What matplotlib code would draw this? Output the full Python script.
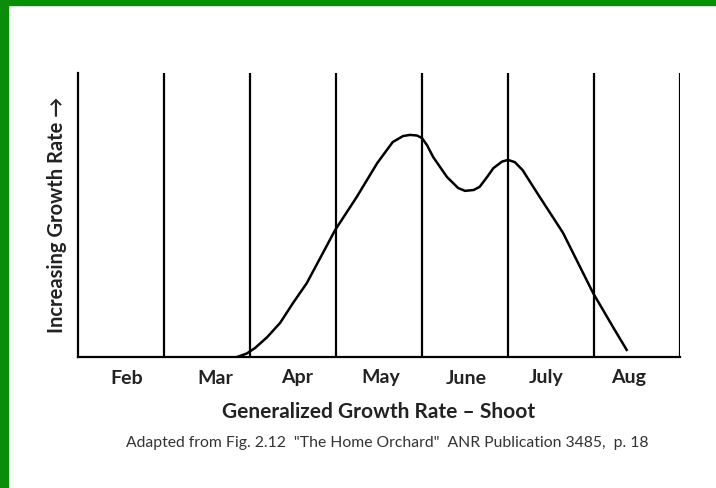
import matplotlib.pyplot as plt
from matplotlib.patches import Rectangle

# Month labels and boundaries
months = ['Feb', 'Mar', 'Apr', 'May', 'June', 'July', 'Aug']
boundaries = [1, 2, 3, 4, 5, 6, 7]

# Growth curve (x in months from start of Feb, y relative 0-100)
curve_x = [1.85, 1.96, 2.06, 2.20, 2.35, 2.50, 2.66, 2.99, 3.24, 3.48, 3.66, 3.78, 3.86,
           3.94, 4.00, 4.06, 4.13, 4.29, 4.42, 4.50, 4.60, 4.67, 4.76, 4.83, 4.93, 5.00,
           5.08, 5.17, 5.26, 5.37, 5.64, 5.99, 6.22, 6.38]
curve_y = [0, 1.2, 3.2, 7, 12, 19, 26, 44.7, 56.3, 68.3, 75.7, 77.8, 78.2,
           78.0, 77.1, 74.5, 70.4, 63.4, 59.5, 58.5, 58.8, 59.9, 63.5, 66.5, 68.8, 69.4,
           68.6, 65.8, 61.5, 56.3, 43.7, 22.5, 10.6, 2.5]

plt.rcParams['font.family'] = ['Lato', 'DejaVu Sans']

fig = plt.figure(figsize=(7.16, 4.88), dpi=100)
ax = fig.add_axes([78 / 716, 1 - 357 / 488, 602 / 716, 284 / 488])

# Vertical month lines
for b in boundaries:
    ax.axvline(b, color='black', lw=1.6)

ax.plot(curve_x, curve_y, color='black', lw=1.8, solid_joinstyle='round')

ax.set_xlim(0, 7)
ax.set_ylim(0, 100)
for s in ['top', 'right']:
    ax.spines[s].set_visible(False)
for s in ['left', 'bottom']:
    ax.spines[s].set_linewidth(1.6)

ax.set_xticks([0.57, 1.6, 2.55, 3.52, 4.51, 5.44, 6.4])
ax.set_xticklabels(months, fontsize=14, fontweight='bold', color='#222222')
ax.set_yticks([])
ax.tick_params(axis='x', length=0, pad=9)

ax.set_xlabel('Generalized Growth Rate \u2013 Shoot', fontsize=15, fontweight='bold',
              color='#222222', labelpad=11)
ax.set_ylabel('Increasing Growth Rate \u2192', fontsize=14.5, fontweight='bold',
              color='#222222', labelpad=8)

fig.text(387 / 716, 1 - 443 / 488,
         'Adapted from Fig. 2.12  "The Home Orchard"  ANR Publication 3485,  p. 18',
         ha='center', va='center', fontsize=11.3, color='#333333')

# Green frame at top and left
fig.patches.append(Rectangle((0, 1 - 5 / 488), 1, 5 / 488, transform=fig.transFigure,
                             color='#0b8c0b', zorder=10))
fig.patches.append(Rectangle((0, 0), 8 / 716, 1, transform=fig.transFigure,
                             color='#0b8c0b', zorder=10))

fig.savefig('out.png', dpi=100)
